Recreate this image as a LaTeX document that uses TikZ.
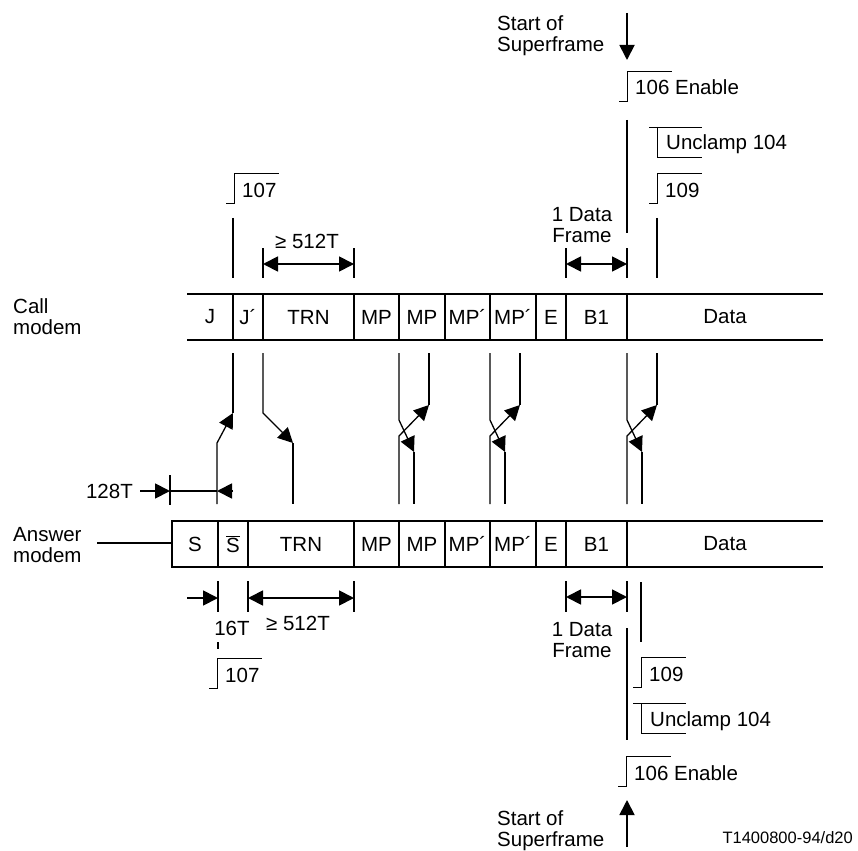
\documentclass[tikz,border=0pt]{standalone}
\usepackage{fontspec}
\setmainfont{Liberation Sans}
\usetikzlibrary{arrows.meta}
\tikzset{
    sig/.style={line width=1.3pt},
    row/.style={line width=1.8pt},
    lbl/.style={inner sep=0pt, font=\fontsize{20.5}{21}\selectfont},
    % signal level that goes up
    rise/.pic={
        \draw[line width=0.9pt] (-8,0) -- (0,0) -- (0,-30) -- (45,-30);
        \node[lbl,anchor=base west] (-txt) at (8,-6) {#1};
    },
    % signal level that goes down
    fall/.pic={
        \draw[line width=0.9pt] (-8,0) -- (45,0);
        \draw[line width=0.9pt] (0,0) -- (0,30) -- (45,30);
        \node[lbl,anchor=base west] (-txt) at (9,23) {#1};
    }
}
\begin{document}
\begin{tikzpicture}[x=1pt,y=-1pt,>={Triangle[length=15pt,width=15pt]}]
    \useasboundingbox (0,0) rectangle (858,850);
    % Call modem row
    \node[lbl,anchor=north west,align=left] (call) at (13,298) {Call\\modem};
    \draw[row] (187,294) -- (823,294) (187,340) -- (823,340);
    \foreach \x in {233,263,354,399,445,490,536,566,627}
        \draw[row] (\x,294) -- (\x,340);
    \foreach \x/\t [count=\i] in {210/J,248/J´,308.5/TRN,376.5/MP,422/MP,467.5/MP´,513/MP´,551/E,596.5/B1,725/Data}
        \node[lbl] (c\i) at (\x,317) {\t};
    % Answer modem row
    \node[lbl,anchor=north west,align=left] (answer) at (13,527) {Answer\\modem};
    \draw[row] (97,543) -- (172,543);
    \draw[row] (823,521) -- (172,521) -- (172,567) -- (823,567);
    \foreach \x in {218,248,354,399,445,490,536,566,627}
        \draw[row] (\x,521) -- (\x,567);
    \foreach \x/\t [count=\i] in {195/S,233/{$\overline{\mbox{S}}$},301/TRN,376.5/MP,422/MP,467.5/MP´,513/MP´,551/E,596.5/B1,725/Data}
        \node[lbl] (a\i) at (\x,544) {\t};

    % top
    \node[lbl,anchor=north west,align=left] (sof1) at (497,15) {Start of\\Superframe};
    \draw[row,->] (627,13) -- (627,60);
    \pic (en1) at (627,101) {rise=106 Enable};
    \draw[row] (627,120) -- (627,233);
    \pic (uc1) at (657,127) {fall=Unclamp 104};
    \pic (r109) at (657,203) {rise=109};
    \draw[row] (657,218) -- (657,278);
    \pic (r107) at (234,203) {rise=107};
    \draw[row] (233,218) -- (233,278);
    \foreach \x in {263,354,566,627}
        \draw[row] (\x,248) -- (\x,278);
    \draw[row,<->] (263,264) -- (354,264);
    \node[lbl] (ge1) at (307,241) {≥ 512T};
    \draw[row,<->] (566,264) -- (627,264);
    \node[lbl,anchor=north,align=center] (df1) at (582,207) {1 Data\\Frame};

    % between the rows
    \draw[sig] (233,353) -- (233,413);
    \draw[sig,->] (217,504) -- (217,443) -- (233,413);
    \draw[sig,->] (263,353) -- (263,413) -- (293,443);
    \draw[sig] (293,443) -- (293,504);
    \foreach \dx in {0,91,228}{
        \draw[sig,->] (399+\dx,353) -- (399+\dx,420) -- (414+\dx,452);
        \draw[sig] (414+\dx,452) -- (414+\dx,504);
        \draw[sig,->] (399+\dx,504) -- (399+\dx,436) -- (429+\dx,405);
        \draw[sig] (429+\dx,405) -- (429+\dx,353);
    }
    \node[lbl,anchor=east] (t128) at (133,491) {128T};
    \draw[row,->] (140,491) -- (170,491);
    \draw[row] (170,475) -- (170,505);
    \draw[row] (170,491) -- (217,491);
    \draw[row,->] (233,491) -- (217,491);

    % bottom
    \foreach \x in {218,248,354,566,627}
        \draw[row] (\x,581) -- (\x,612);
    \draw[row,->] (187,598) -- (218,598);
    \draw[row,<->] (248,598) -- (354,598);
    \node[lbl] (t16) at (232,628) {16T};
    \node[lbl] (ge2) at (298,623) {≥ 512T};
    \draw[row] (218,642) -- (218,649);
    \pic (r107b) at (217,688) {rise=107};
    \draw[row,<->] (566,597) -- (627,597);
    \node[lbl,anchor=north,align=center] (df2) at (582,622) {1 Data\\Frame};
    \draw[row] (641,582) -- (641,642);
    \draw[row] (627,628) -- (627,740);
    \pic (r109b) at (641,687) {rise=109};
    \pic (uc2) at (641,703) {fall=Unclamp 104};
    \pic (en2) at (626,786) {rise=106 Enable};
    \draw[row,->] (627,847) -- (627,800);
    \node[lbl,anchor=north west,align=left] (sof2) at (497,810) {Start of\\Superframe};
    \node[inner sep=0pt,anchor=east,font=\fontsize{16.5}{18}\selectfont] (tag) at (853,838) {T1400800-94/d20};
\end{tikzpicture}
\end{document}
